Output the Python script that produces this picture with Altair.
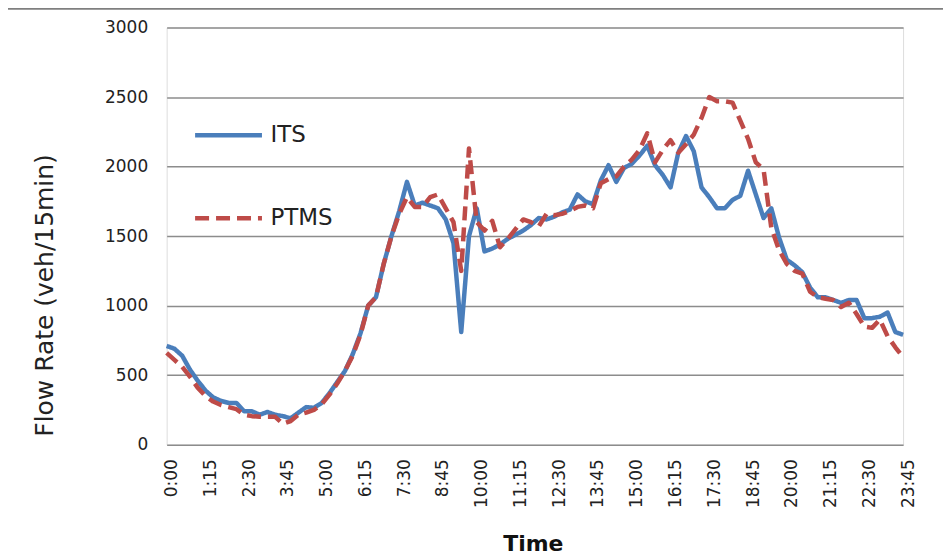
import altair as alt
import pandas as pd

# 15-minute time categories 0:00 ... 23:45
times = [f"{h}:{m:02d}" for h in range(24) for m in (0, 15, 30, 45)]

its = [710, 690, 640, 540, 460, 390, 340, 315, 300, 300,
       240, 240, 215, 235, 215, 205, 190, 230, 270, 265,
       300, 370, 450, 530, 650, 800, 1000, 1060, 1300, 1500,
       1680, 1890, 1720, 1740, 1720, 1700, 1620, 1450, 810, 1500,
       1700, 1390, 1410, 1440, 1480, 1510, 1540, 1580, 1630, 1620,
       1640, 1670, 1690, 1800, 1750, 1730, 1900, 2010, 1890, 1990,
       2020, 2080, 2150, 2010, 1940, 1850, 2100, 2220, 2110, 1850,
       1780, 1700, 1700, 1760, 1790, 1970, 1800, 1630, 1700, 1490,
       1330, 1290, 1240, 1130, 1060, 1060, 1040, 1020, 1040, 1040,
       910, 910, 920, 950, 810, 790]

ptms = [660, 610, 560, 490, 410, 350, 310, 285, 270, 255,
        215, 205, 200, 200, 200, 150, 170, 215, 230, 250,
        290, 360, 440, 530, 640, 790, 1000, 1060, 1300, 1500,
        1660, 1780, 1710, 1710, 1780, 1800, 1700, 1600, 1250, 2130,
        1600, 1540, 1610, 1420, 1480, 1550, 1620, 1600, 1570, 1660,
        1650, 1660, 1680, 1710, 1720, 1700, 1880, 1910, 1930, 2000,
        2050, 2120, 2240, 2030, 2120, 2190, 2100, 2160, 2230, 2350,
        2500, 2470, 2470, 2460, 2330, 2200, 2030, 1980, 1560, 1400,
        1300, 1250, 1230, 1100, 1060, 1050, 1040, 990, 1020, 940,
        850, 840, 900, 780, 700, 630]

series = ["ITS", "PTMS"]
colors = ["#4A7EBB", "#BE4B48"]
tick_labels = times[::5]
y_ticks = [0, 500, 1000, 1500, 2000, 2500, 3000]

rows = []
for i, t in enumerate(times):
    rows.append({"Time": t, "series": "ITS", "flow": its[i], "order": i})
    rows.append({"Time": t, "series": "PTMS", "flow": ptms[i], "order": i})
df = pd.DataFrame(rows)

FONT = "DejaVu Sans"

legend_cfg = dict(title=None, orient="none", legendX=26, legendY=72,
                  symbolType="stroke", symbolSize=4489, symbolStrokeWidth=4.5,
                  labelFont=FONT, labelFontSize=23, labelColor="#222",
                  rowPadding=35, labelOffset=6)

lines = alt.Chart(df).mark_line(strokeWidth=4.5, strokeCap="butt", strokeJoin="round").encode(
    x=alt.X("Time:O", sort=times,
            scale=alt.Scale(type="point", padding=0),
            axis=alt.Axis(values=tick_labels, labelAngle=-90, labelAlign="right",
                          labelBaseline="middle", labelFont=FONT, labelFontSize=17,
                          labelColor="#222", labelPadding=14, labelOffset=5,
                          ticks=False, domain=False, grid=False,
                          title="Time", titleFont=FONT, titleFontSize=22,
                          titleFontWeight="bold", titleColor="#111",
                          titleX=367, titleY=99, titleBaseline="middle",
                          titleAlign="center")),
    y=alt.Y("flow:Q", scale=alt.Scale(domain=[0, 3000]),
            axis=alt.Axis(values=y_ticks, format="d",
                          labelFont=FONT, labelFontSize=17, labelColor="#222",
                          labelPadding=19, ticks=False, domain=False,
                          gridColor="#8c8c8c", gridWidth=1.5,
                          title="Flow Rate (veh/15min)", titleFont=FONT,
                          titleFontSize=25, titleFontWeight="normal",
                          titleColor="#222", titleAngle=-90, titleX=-122,
                          titleY=268, titleAlign="center",
                          titleBaseline="middle")),
    color=alt.Color("series:N", scale=alt.Scale(domain=series, range=colors),
                    legend=alt.Legend(**legend_cfg)),
    strokeDash=alt.StrokeDash("series:N",
                              scale=alt.Scale(domain=series, range=[[1, 0], [14, 7]]),
                              legend=alt.Legend(**legend_cfg)),
    order="order:Q",
)

top_line = alt.Chart(pd.DataFrame({"k": [0]})).mark_rule(color="#7f7f7f", strokeWidth=2.5).encode(
    x=alt.value(-162), x2=alt.value(778), y=alt.value(-19)
)

chart = alt.layer(lines, top_line).properties(
    width=738, height=418,
    padding={"left": 159, "top": 19, "right": 40, "bottom": 114},
    autosize=alt.AutoSizeParams(type="none"),
).configure_view(stroke="#8c8c8c", strokeWidth=1.5).configure(background="white")

chart.save("out.html", embed_options={"renderer": "svg", "actions": False})
